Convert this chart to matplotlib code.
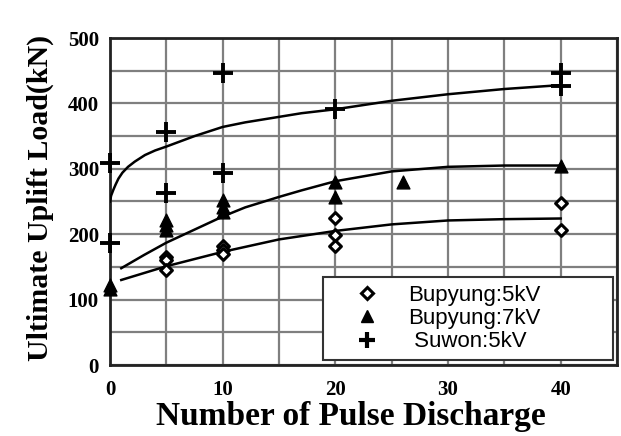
import matplotlib
matplotlib.use("Agg")
import matplotlib.pyplot as plt
from matplotlib.ticker import MultipleLocator
from matplotlib.lines import Line2D

# ---- data ----
b5_x = [5, 5, 5, 10, 10, 10, 20, 20, 20, 40, 40]
b5_y = [165, 160, 145, 182, 176, 170, 225, 199, 182, 248, 206]

b7_x = [0, 0, 5, 5, 5, 10, 10, 10, 20, 20, 26, 40]
b7_y = [116, 122, 206, 214, 222, 234, 242, 252, 280, 257, 280, 304]

sw_x = [0, 0, 5, 5, 10, 10, 20, 40, 40]
sw_y = [309, 186, 357, 263, 446, 294, 391, 446, 426]

# trend curves
sw_fit_x = [0, 0.1, 0.3, 0.5, 0.75, 1.1, 1.6, 2.2, 3.1, 4, 5, 7.5, 10, 12, 17, 20, 25, 30, 35, 40]
sw_fit_y = [250, 259, 268, 276, 285, 294, 303, 311, 321, 328, 334, 350, 364, 371, 385, 391, 404, 414, 422, 428]

b7_fit_x = [1, 3, 5, 7.5, 10, 12, 15, 17, 20, 25, 30, 35, 40]
b7_fit_y = [148, 168, 187, 207, 227, 241, 257, 267, 281, 296, 303, 305, 305]

b5_fit_x = [1, 5, 10, 15, 20, 25, 30, 35, 40]
b5_fit_y = [130, 151, 173, 192, 205, 215, 221, 223, 224]

legend_labels = ["Bupyung:5kV", "Bupyung:7kV", " Suwon:5kV"]
x_ticks = [0, 10, 20, 30, 40]
y_ticks = [0, 100, 200, 300, 400, 500]

fig = plt.figure(figsize=(6.21, 4.36), dpi=100)
ax = fig.add_axes([110/621, 1-365/436, 507/621, 327/436])

serif = ["Liberation Serif", "DejaVu Serif"]

ax.set_xlim(0, 45)
ax.set_ylim(0, 500)
ax.xaxis.set_minor_locator(MultipleLocator(5))
ax.yaxis.set_minor_locator(MultipleLocator(50))
ax.set_xticks(x_ticks)
ax.set_yticks(y_ticks)
ax.grid(True, which="both", color="#7f7f7f", linewidth=1.6)
ax.set_axisbelow(True)
ax.tick_params(which="both", length=0)
ax.tick_params(axis="x", pad=11)
ax.tick_params(axis="y", pad=8)
for lab in ax.get_xticklabels() + ax.get_yticklabels():
    lab.set_fontfamily(serif)
    lab.set_fontweight("bold")
    lab.set_fontsize(15)
for sp in ax.spines.values():
    sp.set_color("#222222")
    sp.set_linewidth(2)

# curves
ax.plot(sw_fit_x, sw_fit_y, color="black", lw=1.8, zorder=3)
ax.plot(b7_fit_x, b7_fit_y, color="black", lw=1.8, zorder=3)
ax.plot(b5_fit_x, b5_fit_y, color="black", lw=1.8, zorder=3)

# points
ax.scatter(b5_x, b5_y, marker="D", s=36, facecolor="white", edgecolor="black",
           linewidth=2.2, zorder=4, clip_on=False)
ax.scatter(b7_x, b7_y, marker="^", s=85, color="black", zorder=4, clip_on=False)
ax.plot(sw_x, sw_y, linestyle="none", marker="+", markersize=14,
        markeredgewidth=2.8, color="black", zorder=4, clip_on=False)

ax.set_xlabel("Number of Pulse Discharge", fontfamily=serif, fontweight="bold",
              fontsize=24, va="center")
ax.xaxis.set_label_coords(0.475, -0.157)
ax.set_ylabel("Ultimate Uplift Load(kN)", fontfamily=serif, fontweight="bold",
              fontsize=21.5, va="center")
ax.yaxis.set_label_coords(-0.137, 0.51)

handles = [
    Line2D([], [], linestyle="none", marker="D", markersize=6, markerfacecolor="white",
           markeredgecolor="black", markeredgewidth=2.2),
    Line2D([], [], linestyle="none", marker="^", markersize=9, color="black"),
    Line2D([], [], linestyle="none", marker="+", markersize=11, markeredgewidth=3.0,
           color="black"),
]
leg = ax.legend(handles, legend_labels, loc="lower left",
                bbox_to_anchor=(0.42, 0.015, 0.572, 0.254), mode="expand",
                borderaxespad=0, frameon=True, fancybox=False,
                prop={"family": ["Liberation Sans", "DejaVu Sans"], "size": 16},
                handletextpad=0.2, labelspacing=0.1, borderpad=0.35,
                handlelength=3.3)
leg.get_frame().set_edgecolor("#333333")
leg.get_frame().set_linewidth(1.5)
leg.get_frame().set_alpha(1)
leg.set_zorder(10)

fig.savefig("out.png", dpi=100)
